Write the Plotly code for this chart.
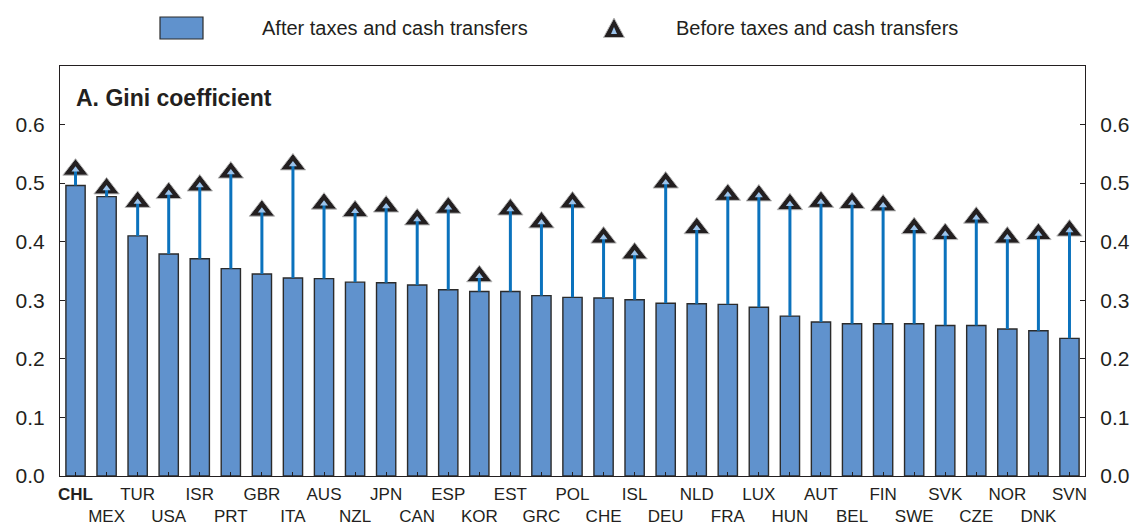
import plotly.graph_objects as go

countries = ["CHL", "MEX", "TUR", "USA", "ISR", "PRT", "GBR", "ITA", "AUS", "NZL", "JPN",
             "CAN", "ESP", "KOR", "EST", "GRC", "POL", "CHE", "ISL", "DEU", "NLD", "FRA",
             "LUX", "HUN", "AUT", "BEL", "FIN", "SWE", "SVK", "CZE", "NOR", "DNK", "SVN"]
after_tax = [0.496, 0.477, 0.410, 0.379, 0.371, 0.354, 0.345, 0.338, 0.337, 0.331, 0.330,
             0.326, 0.318, 0.315, 0.315, 0.308, 0.305, 0.304, 0.301, 0.295, 0.294, 0.293,
             0.288, 0.273, 0.263, 0.260, 0.260, 0.260, 0.257, 0.257, 0.251, 0.248, 0.235]
before_tax = [0.523, 0.491, 0.468, 0.483, 0.496, 0.518, 0.453, 0.532, 0.465, 0.452, 0.460,
              0.438, 0.458, 0.341, 0.455, 0.433, 0.467, 0.407, 0.380, 0.501, 0.423, 0.480,
              0.479, 0.464, 0.468, 0.466, 0.462, 0.423, 0.413, 0.441, 0.407, 0.413, 0.419]
y_ticks = [0.0, 0.1, 0.2, 0.3, 0.4, 0.5, 0.6]
title_text = "A. Gini coefficient"
legend_after = "After taxes and cash transfers"
legend_before = "Before taxes and cash transfers"

BAR = "#6092CD"
STEM = "#0B72BD"
DARK = "#231F20"
FONT = "Liberation Sans, Arial, sans-serif"

tick_text = []
for i, c in enumerate(countries):
    lab = "<b>%s</b>" % c if c == "CHL" else c
    tick_text.append(lab if i % 2 == 0 else "<br>" + lab)

stem_x, stem_y = [], []
for c, a, b in zip(countries, after_tax, before_tax):
    stem_x += [c, c, None]
    stem_y += [a, b, None]

fig = go.Figure()
fig.add_trace(go.Bar(x=countries, y=after_tax, width=0.62, marker=dict(color=BAR, line=dict(color="#2b2b2b", width=1.4)),
                     showlegend=False, hoverinfo="skip"))
fig.add_trace(go.Scatter(x=countries, y=before_tax, mode="markers",
                         marker=dict(symbol="triangle-up", size=22, color=DARK, line=dict(color="#bbbbbb", width=1)),
                         showlegend=False, hoverinfo="skip"))
fig.add_trace(go.Scatter(x=stem_x, y=stem_y, mode="lines", line=dict(color=STEM, width=3),
                         showlegend=False, hoverinfo="skip"))
fig.add_trace(go.Scatter(x=countries, y=before_tax, mode="markers",
                         marker=dict(symbol="triangle-up", size=7, color="#9CC3EA", line=dict(width=0)),
                         showlegend=False, hoverinfo="skip"))
# invisible trace for right axis
fig.add_trace(go.Scatter(x=[countries[0]], y=[0], yaxis="y2", mode="markers", marker=dict(opacity=0),
                         showlegend=False, hoverinfo="skip"))

W, H = 1136, 523
L, R, T, B = 60, 51, 66, 47
pw, ph = W - L - R, H - T - B


def px(x):
    return (x - L) / pw


def py(y):
    return (H - B - y) / ph


shapes = [
    dict(type="rect", xref="paper", yref="paper", x0=px(160), x1=px(203), y0=py(39), y1=py(17),
         fillcolor=BAR, line=dict(color="#2b2b2b", width=1.2)),
    dict(type="path", xref="paper", yref="paper",
         path="M %f,%f L %f,%f L %f,%f Z" % (px(614), py(18), px(624.5), py(37.5), px(603.5), py(37.5)),
         fillcolor=DARK, line=dict(color="#bbbbbb", width=1)),
    dict(type="path", xref="paper", yref="paper",
         path="M %f,%f L %f,%f L %f,%f Z" % (px(614), py(27), px(617), py(34), px(611), py(34)),
         fillcolor="#9CC3EA", line=dict(width=0)),
]

annotations = [
    dict(text=legend_after, xref="paper", yref="paper", x=px(260), y=py(28), xanchor="left", yanchor="middle",
         showarrow=False, font=dict(size=20, color=DARK, family=FONT)),
    dict(text=legend_before, xref="paper", yref="paper", x=px(674), y=py(28), xanchor="left", yanchor="middle",
         showarrow=False, font=dict(size=20, color=DARK, family=FONT)),
    dict(text="<b>%s</b>" % title_text, xref="paper", yref="paper", x=px(74), y=py(98), xanchor="left",
         yanchor="middle", showarrow=False, font=dict(size=23, color=DARK, family=FONT)),
]

yax = dict(range=[0, 0.7], tickvals=y_ticks, ticktext=["%.1f" % v for v in y_ticks], ticks="inside", ticklen=5,
           tickcolor=DARK, showgrid=False, zeroline=False, showline=True, linecolor=DARK, linewidth=1.2,
           tickfont=dict(size=21, color=DARK, family=FONT), ticklabelstandoff=10, automargin=False)

fig.update_layout(
    width=W, height=H, margin=dict(l=L, r=R, t=T, b=B, pad=0, autoexpand=False),
    paper_bgcolor="white", plot_bgcolor="white",
    font=dict(family=FONT, color=DARK),
    xaxis=dict(range=[-0.5, 32.5], tickvals=countries, ticktext=tick_text, ticks="inside", ticklen=4,
               tickangle=0, automargin=False,
               tickcolor=DARK, showline=True, mirror=True, linecolor=DARK, linewidth=1.2, showgrid=False,
               tickfont=dict(size=17, color=DARK, family=FONT), ticklabelstandoff=2),
    yaxis=yax,
    yaxis2=dict(yax, overlaying="y", side="right", matches="y"),
    shapes=shapes, annotations=annotations, bargap=0.38,
)

fig.write_html("out.html", config={"displayModeBar": False},
               post_script="document.body.style.margin='0';document.body.style.overflow='hidden';")
